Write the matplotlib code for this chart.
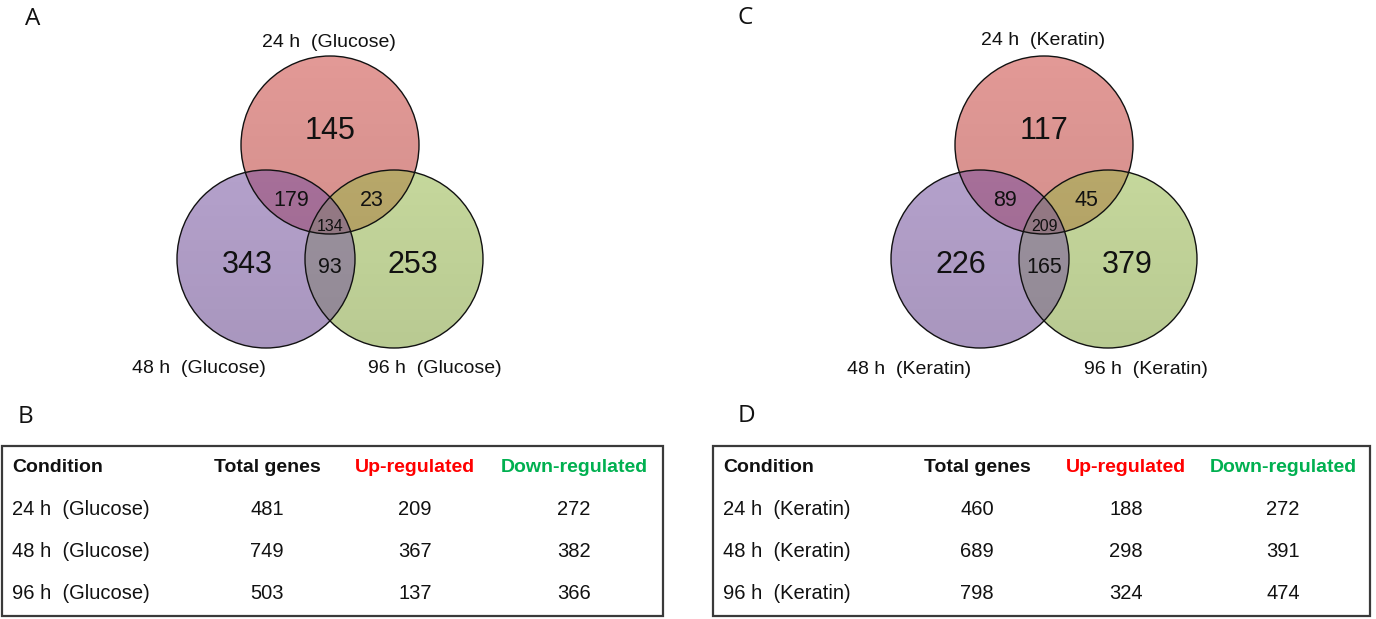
import numpy as np
import matplotlib
matplotlib.use("Agg")
import matplotlib.pyplot as plt
from matplotlib.patches import Circle, Rectangle
from matplotlib.path import Path

plt.rcParams["font.family"] = ["Liberation Sans", "DejaVu Sans"]

# region counts: only 24h, only 48h, only 96h, 24&48, 24&96, 48&96, all three
glucose_regions = [145, 343, 253, 179, 23, 93, 134]
keratin_regions = [117, 226, 379, 89, 45, 165, 209]
glucose_sets = ["24 h  (Glucose)", "48 h  (Glucose)", "96 h  (Glucose)"]
keratin_sets = ["24 h  (Keratin)", "48 h  (Keratin)", "96 h  (Keratin)"]

table_header = ["Condition", "Total genes", "Up-regulated", "Down-regulated"]
glucose_conditions = ["24 h  (Glucose)", "48 h  (Glucose)", "96 h  (Glucose)"]
glucose_total = [481, 749, 503]
glucose_up = [209, 367, 137]
glucose_down = [272, 382, 366]
keratin_conditions = ["24 h  (Keratin)", "48 h  (Keratin)", "96 h  (Keratin)"]
keratin_total = [460, 689, 798]
keratin_up = [188, 298, 324]
keratin_down = [272, 391, 474]

W, H = 1376, 619
DPI = 100
PX = DPI / 72.0

fig = plt.figure(figsize=(W / DPI, H / DPI), dpi=DPI)
ax = fig.add_axes([0, 0, 1, 1])
ax.set_xlim(0, W)
ax.set_ylim(H, 0)
ax.axis("off")

TXT = "#111111"


def put(x, y, s, size, ha="center", color=TXT, weight="normal", family=None):
    # y is the visual middle of the digits / capitals
    kw = {}
    if family:
        kw["family"] = family
    ax.text(x, y + 0.36 * size * PX, s, fontsize=size, ha=ha, va="baseline",
            color=color, fontweight=weight, **kw)


def venn(cx, cy, regions, names, name_pos):
    r = 89
    centers = [(cx, cy), (cx - 64, cy + 114), (cx + 64, cy + 114)]
    fills = {0: "#c7352f", 2: "#9dc347", 1: "#7951a9"}
    # draw order: red, green, purple on top
    for i in [0, 2, 1]:
        ax.add_patch(Circle(centers[i], r, facecolor=fills[i], alpha=0.5,
                            edgecolor="none", zorder=2))
    # soft vertical shading across the union of the circles
    union = Path.make_compound_path(*[Path.circle(c, r) for c in centers])
    x0, x1 = cx - 64 - r - 2, cx + 64 + r + 2
    y0, y1 = cy - r - 2, cy + 114 + r + 2
    grad = np.linspace(0, 1, 200).reshape(-1, 1)
    shade = np.zeros((200, 1, 4))
    shade[..., 3] = 0.10 * grad
    im = ax.imshow(shade, extent=(x0, x1, y1, y0), aspect="auto",
                   interpolation="bilinear", zorder=3)
    im.set_clip_path(union, transform=ax.transData)
    for c in centers:
        ax.add_patch(Circle(c, r, facecolor="none", edgecolor="#111111",
                            linewidth=1.0, zorder=4))

    offs = [(0, -17), (-83, 117), (83, 117), (-39, 53), (42, 53), (0, 120), (0, 80)]
    sizes = [22, 22, 22, 15.5, 15.5, 15.5, 11.5]
    for val, (dx, dy), fs in zip(regions, offs, sizes):
        put(cx + dx, cy + dy, str(val), fs)
    for name, (nx, ny) in zip(names, name_pos):
        put(nx, ny, name, 14)


def table(x0, x1, conds, total, up, down, cols):
    ax.add_patch(Rectangle((x0, 446), x1 - x0, 170, facecolor="none",
                           edgecolor="#3a3a3a", linewidth=1.6, zorder=2))
    head_colors = [TXT, TXT, "#ff0000", "#00b050"]
    put(cols[0], 465, table_header[0], 14, ha="left", weight="bold")
    for j in range(1, 4):
        put(cols[j], 465, table_header[j], 14, color=head_colors[j], weight="bold")
    rows_y = [508, 550, 592]
    for i, y in enumerate(rows_y):
        put(cols[0], y, conds[i], 14.5, ha="left")
        put(cols[1], y, str(total[i]), 14.5)
        put(cols[2], y, str(up[i]), 14.5)
        put(cols[3], y, str(down[i]), 14.5)


venn(330, 145, glucose_regions, glucose_sets, [(329, 40), (199, 366), (435, 366)])
venn(1044, 145, keratin_regions, keratin_sets, [(1043, 38), (909, 367), (1146, 367)])

table(2, 663, glucose_conditions, glucose_total, glucose_up, glucose_down,
      [12, 267, 415, 574])
table(713, 1370, keratin_conditions, keratin_total, keratin_up, keratin_down,
      [723, 977, 1126, 1283])

for letter, lx, ly in [("A", 33, 16), ("C", 745, 15), ("B", 26, 414), ("D", 746, 413)]:
    put(lx, ly, letter, 17.5, family=["Open Sans", "DejaVu Sans"])

fig.savefig("out.png", dpi=DPI)
